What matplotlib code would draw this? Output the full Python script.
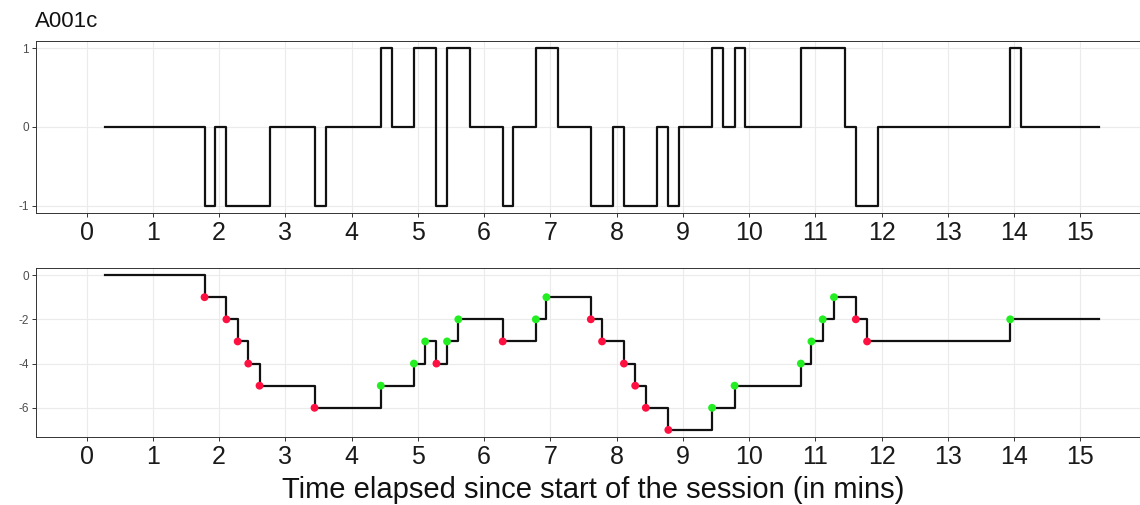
import matplotlib
matplotlib.use("Agg")
import matplotlib.pyplot as plt
import numpy as np

plt.rcParams['font.family'] = ['Liberation Sans', 'DejaVu Sans']
plt.rcParams['axes.unicode_minus'] = False

title = "A001c"
xlabel = "Time elapsed since start of the session (in mins)"
xticks = list(range(0, 16))

# Top panel: step signal (value holds from each time until the next)
top_t = [0.28, 1.78, 1.94, 2.11, 2.77, 3.44, 3.61, 4.44, 4.61, 4.94, 5.28, 5.44,
         5.78, 6.28, 6.44, 6.78, 7.11, 7.61, 7.94, 8.11, 8.61, 8.78, 8.94, 9.44,
         9.61, 9.78, 9.94, 10.78, 11.44, 11.61, 11.94, 13.94, 14.11, 15.28]
top_v = [0, -1, 0, -1, 0, -1, 0, 1, 0, 1, -1, 1,
         0, -1, 0, 1, 0, -1, 0, -1, 0, -1, 0, 1,
         0, 1, 0, 1, 0, -1, 0, 1, 0, 0]

# Bottom panel: cumulative score steps
bot_t = [0.28, 1.78, 2.11, 2.28, 2.44, 2.61, 3.44, 4.44, 4.94, 5.11, 5.28, 5.44,
         5.61, 6.28, 6.78, 6.94, 7.61, 7.78, 8.11, 8.28, 8.44, 8.78, 9.44, 9.78,
         10.78, 10.94, 11.11, 11.28, 11.61, 11.78, 13.94, 15.28]
bot_v = [0, -1, -2, -3, -4, -5, -6, -5, -4, -3, -4, -3,
         -2, -3, -2, -1, -2, -3, -4, -5, -6, -7, -6, -5,
         -4, -3, -2, -1, -2, -3, -2, -2]

W, H = 1140, 505
fig = plt.figure(figsize=(W / 100, H / 100), dpi=100)

left_px, right_px = 36, 1150
xlim = (-0.764, 16.05)

def add_axes(top_px, bot_px):
    return fig.add_axes([left_px / W, 1 - bot_px / H, (right_px - left_px) / W, (bot_px - top_px) / H])

ax1 = add_axes(41, 213)
ax2 = add_axes(268, 437)

for ax in (ax1, ax2):
    ax.set_xlim(*xlim)
    ax.set_xticks(xticks)
    ax.set_xticklabels([str(x) for x in xticks])
    ax.grid(True, color='#EBEBEB', lw=0.8)
    ax.set_axisbelow(True)
    for s in ax.spines.values():
        s.set_color('#333333')
        s.set_linewidth(0.7)
    ax.tick_params(axis='x', labelsize=18, colors='#333333', labelcolor='#1a1a1a',
                   length=3, width=0.7, pad=3)
    ax.tick_params(axis='y', labelsize=8.5, colors='#333333', labelcolor='#4D4D4D',
                   length=3, width=0.7, pad=2)

ax1.step(top_t, top_v, where='post', color='#111111', lw=1.6)
ax1.set_ylim(-1.09, 1.09)
ax1.set_yticks([-1, 0, 1])

ax2.step(bot_t, bot_v, where='post', color='#111111', lw=1.6)
pt_t = bot_t[1:-1]
pt_v = bot_v[1:-1]
prev = bot_v[:-2]
cols = ['#FF1040' if v < p else '#22EE22' for v, p in zip(pt_v, prev)]
ax2.scatter(pt_t, pt_v, c=cols, s=32, zorder=3, linewidths=0)
ax2.set_ylim(-7.32, 0.32)
ax2.set_yticks([0, -2, -4, -6])

fig.text(35 / W, 1 - 27 / H, title, fontsize=16, va='baseline', ha='left', color='#111111')
fig.text(593 / W, 1 - 498 / H, xlabel, fontsize=21, va='baseline', ha='center', color='#111111')

fig.savefig('out.png', dpi=100)
